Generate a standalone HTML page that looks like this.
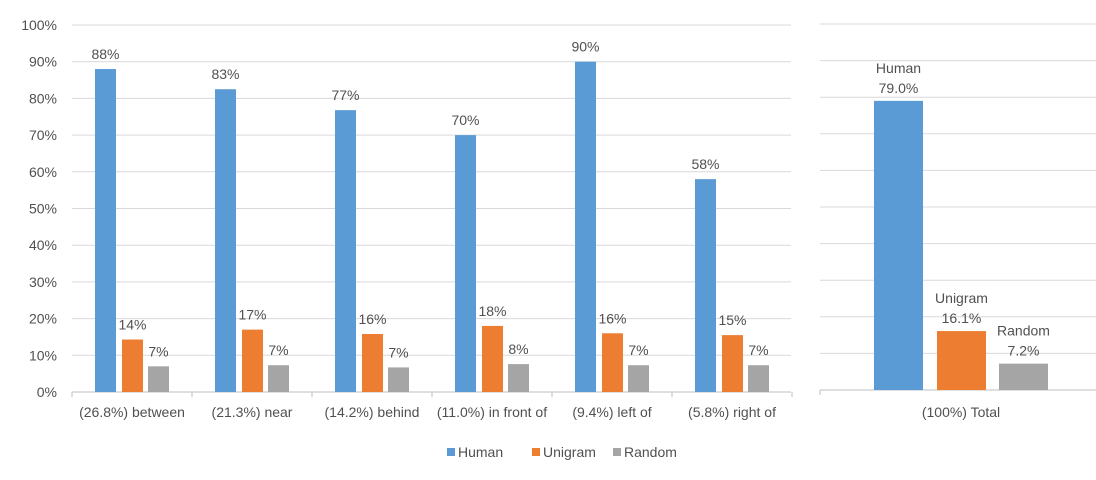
<!DOCTYPE html>
<html><head><meta charset="utf-8"><style>
body{margin:0;background:#fff;}
svg{display:block;font-family:"Liberation Sans",Calibri,sans-serif;}
text{fill:#505050;font-size:14px;}
</style></head><body>
<svg id="c" width="1096" height="480"></svg>
<script>
const categories=["(26.8%) between","(21.3%) near","(14.2%) behind","(11.0%) in front of","(9.4%) left of","(5.8%) right of"];
const human=[88,82.5,76.8,70,90,58];
const unigram=[14.3,17,15.8,18,16,15.5];
const random=[7,7.3,6.7,7.6,7.3,7.3];
const humanLabels=["88%","83%","77%","70%","90%","58%"];
const unigramLabels=["14%","17%","16%","18%","16%","15%"];
const randomLabels=["7%","7%","7%","8%","7%","7%"];
const yTicks=[0,10,20,30,40,50,60,70,80,90,100];
const totalCategory="(100%) Total";
const totalSeries=["Human","Unigram","Random"];
const totalValues=[79.0,16.1,7.2];
const totalLabels=["79.0%","16.1%","7.2%"];
const colors=["#5b9bd5","#ed7d31","#a5a5a5"];

const svg=document.getElementById('c');
const NS="http://www.w3.org/2000/svg";
function mk(tag,attrs,txt){const e=document.createElementNS(NS,tag);for(const k in attrs)e.setAttribute(k,attrs[k]);if(txt!=null)e.textContent=txt;svg.appendChild(e);return e;}
const yL=v=>392-v*3.67;
const x0=72,cw=120;
const xC=i=>x0+i*cw;
yTicks.forEach(t=>{
 const g=mk('line',{x1:x0,x2:791,y1:yL(t),y2:yL(t),stroke:t===0?'#bfbfbf':'#d9d9d9','stroke-width':1});
 
 
 const l=mk('text',{x:57,y:yL(t)+5,'text-anchor':'end'},t+'%');
 
 
});
for(let i=0;i<=categories.length;i++){
 const t=mk('line',{x1:xC(i),x2:xC(i),y1:392,y2:397,stroke:'#bfbfbf'});
 
 
}
const series=[human,unigram,random],labs=[humanLabels,unigramLabels,randomLabels],offs=[23,50,76],bw=21;
categories.forEach((c,i)=>{
 series.forEach((s,k)=>{
  const x=xC(i)+offs[k],y=yL(s[i]);
  const r=mk('rect',{x:x,y:y,width:bw,height:392-y,fill:colors[k]});
  
  
  const t=mk('text',{x:x+bw/2,y:y-10,'text-anchor':'middle'},labs[k][i]);
  
  
 });
 const cl=mk('text',{x:xC(i)+cw/2,y:417,'text-anchor':'middle'},c);
 
 
});
const yR=v=>390-v*3.66;
yTicks.forEach(t=>{
 const g=mk('line',{x1:820,x2:1096,y1:yR(t),y2:yR(t),stroke:t===0?'#bfbfbf':'#d9d9d9'});
 
 
});
const tk=mk('line',{x1:820,x2:820,y1:390,y2:395,stroke:'#bfbfbf'});


const rx=[874,937,999],rw=49;
totalValues.forEach((v,k)=>{
 const y=yR(v);
 const r=mk('rect',{x:rx[k],y:y,width:rw,height:390-y,fill:colors[k]});
 
 
 const a=mk('text',{x:rx[k]+rw/2,y:y-28,'text-anchor':'middle'},totalSeries[k]);
 
 
 const b=mk('text',{x:rx[k]+rw/2,y:y-8,'text-anchor':'middle'},totalLabels[k]);
 
 
});
const tl=mk('text',{x:961,y:417,'text-anchor':'middle'},totalCategory);


const lg=[[447,458,'Human'],[532,543,'Unigram'],[613,624,'Random']];
lg.forEach((l,k)=>{
 const s=mk('rect',{x:l[0],y:448,width:8,height:8,fill:colors[k]});
 
 
 const t=mk('text',{x:l[1],y:457},l[2]);
 
 
});
</script>
</body></html>
